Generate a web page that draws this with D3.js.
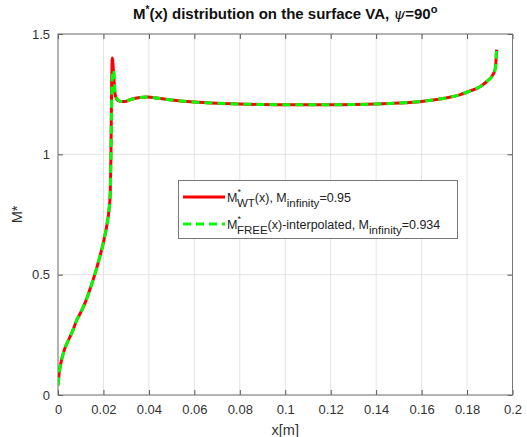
<!DOCTYPE html>
<html>
<head>
<meta charset="utf-8">
<script src="https://cdn.jsdelivr.net/npm/d3@7"></script>
<style>
  body { margin: 0; background: #fff; }
  svg text { font-family: "Liberation Sans", Arial, Helvetica, sans-serif; }
</style>
</head>
<body>
<svg id="chart"></svg>
<script>
// data
const xVals = [0, 0.0005, 0.001, 0.0023, 0.0035, 0.0053, 0.0068, 0.0082, 0.010, 0.012,
  0.014, 0.016, 0.018, 0.020, 0.0215, 0.0225, 0.0230, 0.0233, 0.0236, 0.0239,
  0.0245, 0.0251, 0.0262, 0.0278, 0.0295, 0.032, 0.036, 0.039, 0.045, 0.05,
  0.06, 0.07, 0.08, 0.09, 0.1, 0.11, 0.12, 0.13, 0.14, 0.15,
  0.16, 0.165, 0.17, 0.1767, 0.181, 0.1855, 0.189, 0.1913, 0.1925, 0.1928, 0.193];
const wtVals = [0.04, 0.09, 0.12, 0.173, 0.205, 0.242, 0.275, 0.31, 0.343, 0.385,
  0.437, 0.495, 0.56, 0.635, 0.705, 0.775, 0.84, 1.0, 1.28, 1.40,
  1.33, 1.25, 1.225, 1.22, 1.22, 1.228, 1.236, 1.238, 1.232, 1.226,
  1.217, 1.212, 1.209, 1.207, 1.206, 1.206, 1.206, 1.207, 1.209, 1.213,
  1.22, 1.226, 1.233, 1.247, 1.262, 1.28, 1.305, 1.33, 1.36, 1.40, 1.435];
const freeVals = [0.04, 0.09, 0.12, 0.173, 0.205, 0.242, 0.275, 0.31, 0.343, 0.385,
  0.437, 0.495, 0.56, 0.635, 0.705, 0.775, 0.84, 1.0, 1.22, 1.32,
  1.35, 1.26, 1.228, 1.22, 1.22, 1.228, 1.236, 1.238, 1.232, 1.226,
  1.217, 1.212, 1.209, 1.207, 1.206, 1.206, 1.206, 1.207, 1.209, 1.213,
  1.22, 1.226, 1.233, 1.247, 1.262, 1.28, 1.305, 1.33, 1.36, 1.40, 1.435];
const xTicks = [0, 0.02, 0.04, 0.06, 0.08, 0.1, 0.12, 0.14, 0.16, 0.18, 0.2];
const yTicks = [0, 0.5, 1, 1.5];

const W = 527, H = 437;
const margin = { top: 34, right: 14.5, bottom: 42, left: 58 };

const svg = d3.select("svg#chart").attr("width", W).attr("height", H);

const xScale = d3.scaleLinear().domain([0, 0.2]).range([margin.left, W - margin.right]);
const yScale = d3.scaleLinear().domain([0, 1.5]).range([H - margin.bottom, margin.top]);

const x0 = xScale.range()[0], x1 = xScale.range()[1];
const y0 = yScale.range()[0], y1 = yScale.range()[1];

svg.append("defs").append("clipPath").attr("id", "clip")
  .append("rect").attr("x", x0).attr("y", y1).attr("width", x1 - x0).attr("height", y0 - y1);

//grid
svg.append("g").selectAll("line.vg").data(xTicks).enter().append("line")
  .attr("x1", d => xScale(d)).attr("x2", d => xScale(d))
  .attr("y1", y0).attr("y2", y1)
  .style("stroke", "#e3e3e3").style("stroke-width", 1);
svg.append("g").selectAll("line.hg").data(yTicks).enter().append("line")
  .attr("x1", x0).attr("x2", x1)
  .attr("y1", d => yScale(d)).attr("y2", d => yScale(d))
  .style("stroke", "#e3e3e3").style("stroke-width", 1);

//axes
const tickStyle = g => {
  g.select(".domain").remove();
  g.selectAll(".tick line").style("stroke", "#555");
  g.selectAll(".tick text").style("font-size", "13px").style("fill", "#333");
};
svg.append("g").attr("transform", "translate(0," + y0 + ")")
  .call(d3.axisBottom(xScale).tickValues(xTicks).tickSize(-5).tickPadding(10).tickFormat(d => d3.format("")(d)))
  .call(tickStyle);
svg.append("g").attr("transform", "translate(0," + y1 + ")")
  .call(d3.axisTop(xScale).tickValues(xTicks).tickSize(-5).tickFormat(""))
  .call(tickStyle);
svg.append("g").attr("transform", "translate(" + x0 + ",0)")
  .call(d3.axisLeft(yScale).tickValues(yTicks).tickSize(-5).tickPadding(8).tickFormat(d => d3.format("")(d)))
  .call(tickStyle);
svg.append("g").attr("transform", "translate(" + x1 + ",0)")
  .call(d3.axisRight(yScale).tickValues(yTicks).tickSize(-5).tickFormat(""))
  .call(tickStyle);

svg.append("rect").attr("x", x0).attr("y", y1).attr("width", x1 - x0).attr("height", y0 - y1)
  .style("fill", "none").style("stroke", "#777").style("stroke-width", 1);

//lines
const wtData = xVals.map((x, i) => [x, wtVals[i]]);
const freeData = xVals.map((x, i) => [x, freeVals[i]]);
const line = d3.line().x(d => xScale(d[0])).y(d => yScale(d[1])).curve(d3.curveMonotoneX);

const plot = svg.append("g").attr("clip-path", "url(#clip)");
plot.append("path").datum(wtData).attr("d", line)
  .style("fill", "none").style("stroke", "#ff0000").style("stroke-width", 3);
plot.append("path").datum(freeData).attr("d", line)
  .style("fill", "none").style("stroke", "#00ff00").style("stroke-width", 3)
  .style("stroke-dasharray", "8,5");

//legend
const lg = svg.append("g");
lg.append("rect").attr("x", 178.5).attr("y", 180.5).attr("width", 279).attr("height", 58)
  .style("fill", "#fff").style("stroke", "#777").style("stroke-width", 1);
lg.append("line").attr("x1", 183).attr("x2", 225).attr("y1", 197).attr("y2", 197)
  .style("stroke", "#ff0000").style("stroke-width", 3);
lg.append("line").attr("x1", 183).attr("x2", 225).attr("y1", 224).attr("y2", 224)
  .style("stroke", "#00ff00").style("stroke-width", 3).style("stroke-dasharray", "8,5");

const t1 = lg.append("text").attr("x", 227).attr("y", 202).style("font-size", "12.5px").style("fill", "#222");
t1.append("tspan").text("M");
t1.append("tspan").attr("dy", -7).style("font-size", "9px").text("*");
t1.append("tspan").attr("dx", -4).attr("dy", 12).style("font-size", "11.5px").text("WT");
t1.append("tspan").attr("dy", -5).text("(x), M");
t1.append("tspan").attr("dy", 5).style("font-size", "11.5px").text("infinity");
t1.append("tspan").attr("dy", -5).text("=0.95");

const t2 = lg.append("text").attr("x", 227).attr("y", 229).style("font-size", "12.5px").style("fill", "#222");
t2.append("tspan").text("M");
t2.append("tspan").attr("dy", -7).style("font-size", "9px").text("*");
t2.append("tspan").attr("dx", -4).attr("dy", 12).style("font-size", "11.5px").text("FREE");
t2.append("tspan").attr("dy", -5).text("(x)-interpolated, M");
t2.append("tspan").attr("dy", 5).style("font-size", "11.5px").text("infinity");
t2.append("tspan").attr("dy", -5).text("=0.934");

//title
const title = svg.append("text").attr("x", (x0 + x1) / 2).attr("y", 19)
  .attr("text-anchor", "middle").style("font-size", "15px").style("font-weight", "bold").style("fill", "#111");
title.append("tspan").text("M");
title.append("tspan").attr("dy", -6).style("font-size", "10px").text("*");
title.append("tspan").attr("dy", 6).text("(x) distribution on the surface VA, ");
title.append("tspan").style("font-family", "'DejaVu Serif', serif").style("font-style", "italic").style("font-weight", "normal").text("ψ");
title.append("tspan").text("=90");
title.append("tspan").attr("dy", -6).style("font-size", "11px").text("o");

//axis labels
svg.append("text").attr("x", (x0 + x1) / 2).attr("y", 435).attr("text-anchor", "middle")
  .style("font-size", "14.5px").style("fill", "#333").text("x[m]");
svg.append("text").attr("transform", "translate(22," + ((y0 + y1) / 2) + ") rotate(-90)")
  .attr("text-anchor", "middle").style("font-size", "14.5px").style("fill", "#333").text("M*");
</script>
</body>
</html>
